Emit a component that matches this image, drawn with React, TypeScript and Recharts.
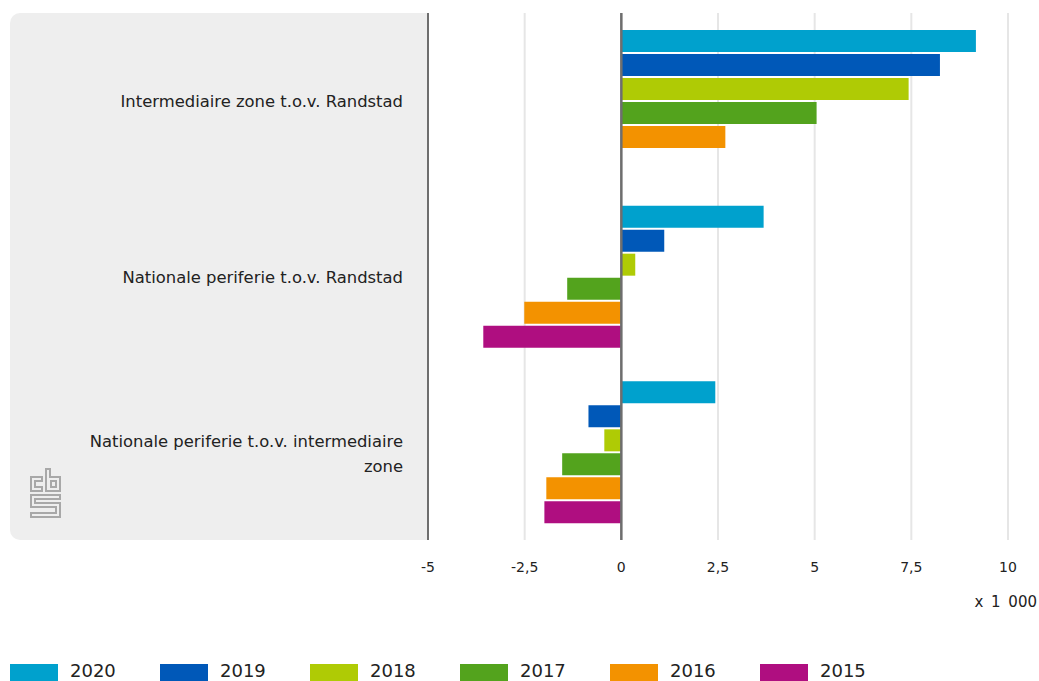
import React from "react";
import { BarChart, Bar, XAxis, YAxis, CartesianGrid, ReferenceLine, Text } from "recharts";

const categories = [
  "Intermediaire zone t.o.v. Randstad",
  "Nationale periferie t.o.v. Randstad",
  "Nationale periferie t.o.v. intermediaire zone",
];
const years = ["2020", "2019", "2018", "2017", "2016", "2015"];
const colors = ["#00a1cd", "#0058b8", "#afcb05", "#53a31d", "#f39200", "#af0e80"];

// x 1 000
const v2020 = [9.17, 3.68, 2.43];
const v2019 = [8.24, 1.11, -0.85];
const v2018 = [7.43, 0.36, -0.44];
const v2017 = [5.05, -1.4, -1.53];
const v2016 = [2.69, -2.51, -1.94];
const v2015 = [null, -3.57, -1.99];

const xTicks = [-5, -2.5, 0, 2.5, 5, 7.5, 10];

const series = [v2020, v2019, v2018, v2017, v2016, v2015];
const data = categories.map((name, i) => {
  const row: Record<string, string | number | null> = { name };
  years.forEach((y, j) => {
    row[y] = series[j][i];
  });
  return row;
});

const FONT = "'DejaVu Sans', sans-serif";

function CategoryTick(props: any) {
  const { x, y, payload } = props;
  // long labels wrap onto two lines; nudge so both cases sit centred on the band
  const wrapped = String(payload.value).length > 40;
  return (
    <Text
      x={x - 17}
      y={y + (wrapped ? -5 : 6)}
      width={335}
      textAnchor="end"
      verticalAnchor="middle"
      style={{ fontSize: 16.4, fontFamily: FONT }}
      fill="#222"
      lineHeight="25px"
    >
      {payload.value}
    </Text>
  );
}

function CbsLogo() {
  return (
    <svg width={34} height={52} style={{ position: "absolute", left: 29, top: 467 }}>
      <g fill="none" stroke="#a8a8a8" strokeWidth={2}>
        <path d="M2 10 H13 V14 H6 V20 H13 V24 H2 Z" />
        <path d="M17 2 H21 V10 H31 V24 H17 Z" />
        <rect x={22} y={14} width={5} height={6} />
        <path d="M2 28 H31 V32 H6 V36 H31 V50 H2 V46 H27 V40 H2 Z" />
      </g>
    </svg>
  );
}

export default function App() {
  return (
    <div style={{ position: "absolute", left: 0, top: 0, width: 1039, height: 681, overflow: "hidden", background: "#fff" }}>
      <div
        style={{
          position: "absolute",
          left: 10,
          top: 13,
          width: 418,
          height: 527,
          background: "#eeeeee",
          borderRadius: "10px 0 0 10px",
        }}
      />
      <CbsLogo />
      <div style={{ position: "absolute", left: 0, top: 0 }}>
        <BarChart
          width={1039}
          height={610}
          data={data}
          layout="vertical"
          margin={{ top: 13, right: 31, bottom: 0, left: 0 }}
          barSize={22}
          barGap={2}
        >
          <CartesianGrid horizontal={false} stroke="#e6e6e6" strokeWidth={2} />
          <XAxis
            type="number"
            domain={[-5, 10]}
            ticks={xTicks}
            height={70}
            axisLine={false}
            tickLine={false}
            tickMargin={16}
            tick={{ fill: "#222", fontSize: 14, fontFamily: FONT }}
            tickFormatter={(v: number) => String(v).replace(".", ",")}
          />
          <YAxis
            type="category"
            dataKey="name"
            width={428}
            axisLine={{ stroke: "#6e6e6e", strokeWidth: 2 }}
            tickLine={false}
            tick={<CategoryTick />}
          />
          {years.map((y, i) => (
            <Bar key={y} dataKey={y} fill={colors[i]} isAnimationActive={false} />
          ))}
          <ReferenceLine x={0} stroke="#6e6e6e" strokeWidth={2.5} />
        </BarChart>
      </div>
      <div
        style={{
          position: "absolute",
          right: 2,
          top: 593,
          fontFamily: FONT,
          fontSize: 15,
          wordSpacing: 3,
          color: "#222",
        }}
      >
        x 1 000
      </div>
      <div style={{ position: "absolute", left: 10, top: 661, display: "flex", fontFamily: FONT, fontSize: 18, color: "#222" }}>
        {years.map((y, i) => (
          <div key={y} style={{ display: "flex", alignItems: "flex-start", width: 150 }}>
            <div style={{ width: 48, height: 20, background: colors[i], marginTop: 3 }} />
            <span style={{ marginLeft: 12, lineHeight: "20px" }}>{y}</span>
          </div>
        ))}
      </div>
    </div>
  );
}
